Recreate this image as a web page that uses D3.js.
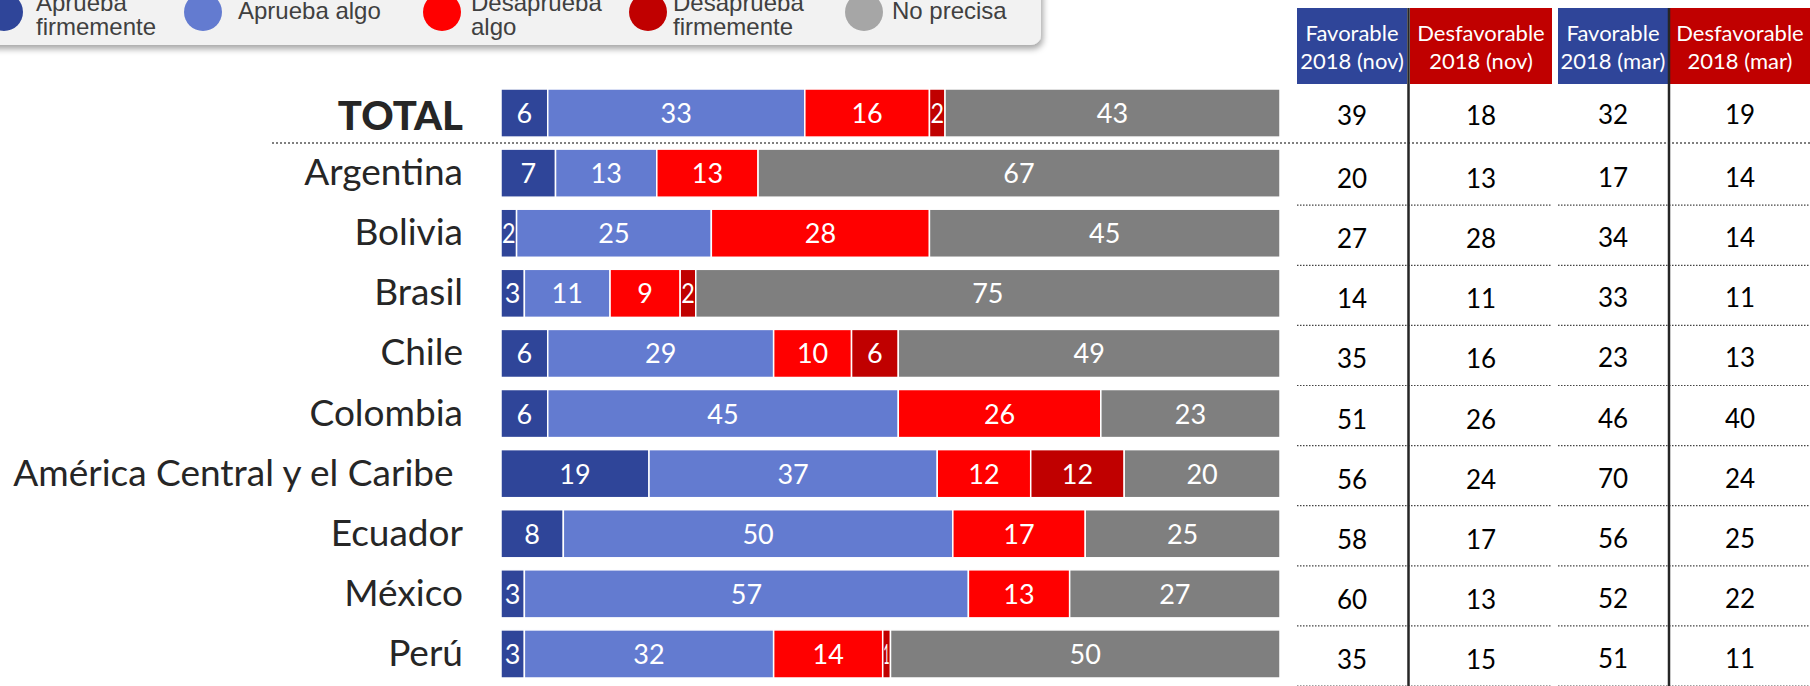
<!DOCTYPE html>
<html>
<head>
<meta charset="utf-8">
<script src="https://cdn.jsdelivr.net/npm/d3@7"></script>
<style>
  html, body { margin: 0; padding: 0; background: #fff; }
  #chart { width: 1810px; height: 686px; overflow: hidden; }
</style>
</head>
<body>
<div id="chart"></div>
<script>
// data
let categories = ['TOTAL', 'Argentina', 'Bolivia', 'Brasil', 'Chile', 'Colombia',
  'América Central y el Caribe', 'Ecuador', 'México', 'Perú'];

let series = ['Aprueba firmemente', 'Aprueba algo', 'Desaprueba algo', 'Desaprueba firmemente', 'No precisa'];
let legendLines = [['Aprueba', 'firmemente'], ['Aprueba algo'], ['Desaprueba', 'algo'], ['Desaprueba', 'firmemente'], ['No precisa']];

let apruebaFirme   = [6, 7, 2, 3, 6, 6, 19, 8, 3, 3];
let apruebaAlgo    = [33, 13, 25, 11, 29, 45, 37, 50, 57, 32];
let desapruebaAlgo = [16, 13, 28, 9, 10, 26, 12, 17, 13, 14];
let desapruebaFirme= [2, 0, 0, 2, 6, 0, 12, 0, 0, 1];
let noPrecisa      = [43, 67, 45, 75, 49, 23, 20, 25, 27, 50];

let tableHeaders = [['Favorable', '2018 (nov)'], ['Desfavorable', '2018 (nov)'], ['Favorable', '2018 (mar)'], ['Desfavorable', '2018 (mar)']];
let favNov = [39, 20, 27, 14, 35, 51, 56, 58, 60, 35];
let desNov = [18, 13, 28, 11, 16, 26, 24, 17, 13, 15];
let favMar = [32, 17, 34, 33, 23, 46, 70, 56, 52, 51];
let desMar = [19, 14, 14, 11, 13, 40, 24, 25, 22, 11];

// styles
let segColors = ['#2f4599', '#637bd0', '#ff0000', '#c00000', '#7f7f7f'],
    legendColors = ['#2f4599', '#637bd0', '#ff0000', '#c00000', '#a6a6a6'],
    headerColors = ['#2f4599', '#c00000', '#2f4599', '#c00000'];
let width = 1810, height = 686;
let font = 'Lato, "Open Sans", sans-serif';

let svg = d3.select('#chart').append('svg')
  .attr('width', width)
  .attr('height', height);

let defs = svg.append('defs');
defs.append('filter').attr('id', 'shadow')
  .attr('x', '-5%').attr('y', '-50%').attr('width', '110%').attr('height', '200%')
  .append('feDropShadow')
  .attr('dx', 2).attr('dy', 4).attr('stdDeviation', 3)
  .attr('flood-color', '#000').attr('flood-opacity', 0.35);

// scales
let x = d3.scaleLinear().domain([0, 100]).range([501, 1280]);
let y = d3.scaleBand().domain(categories).range([89, 678]).paddingInner(0.2).paddingOuter(0);

// stacked rows
let rows = categories.map(function(c, i) {
  return {name: c, vals: [apruebaFirme[i], apruebaAlgo[i], desapruebaAlgo[i], desapruebaFirme[i], noPrecisa[i]]};
});
rows.forEach(function(r) {
  let acc = 0;
  r.segs = r.vals.map(function(v, k) {
    let s = {x0: acc, x1: acc + v, v: v, k: k};
    acc += v;
    return s;
  }).filter(function(s) { return s.v > 0; });
});

// legend box
let legend = svg.append('g').attr('class', 'legend');
legend.append('rect')
  .attr('x', -20).attr('y', -20)
  .attr('width', 1061).attr('height', 65)
  .attr('rx', 10)
  .attr('fill', '#f2f2f2')
  .attr('filter', 'url(#shadow)');

let legendX = [4, 203, 442, 648, 864];
let legendTextX = [32, 35, 29, 25, 28];
let legItems = legend.selectAll('g.item')
  .data(series)
  .enter().append('g')
  .attr('class', 'item')
  .attr('transform', function(d, i) { return 'translate(' + legendX[i] + ',0)'; });

legItems.append('circle')
  .attr('cx', 0).attr('cy', 12).attr('r', 19)
  .attr('fill', function(d, i) { return legendColors[i]; });

legItems.append('text')
  .attr('font-family', '"Liberation Sans", Arial, sans-serif')
  .attr('font-size', 24)
  .attr('fill', '#404040')
  .each(function(d, i) {
    let lines = legendLines[i];
    let t = d3.select(this);
    lines.forEach(function(l, j) {
      t.append('tspan')
        .attr('x', legendTextX[i])
        .attr('y', lines.length > 1 ? 11 + j * 24 : 19)
        .text(l);
    });
  });

// category labels
svg.append('g').selectAll('text')
  .data(rows)
  .enter().append('text')
  .attr('x', 463)
  .attr('y', function(d) { return y(d.name) + y.bandwidth() / 2 + (d.name == 'TOTAL' ? 17 : 12); })
  .attr('text-anchor', 'end')
  .attr('font-family', font)
  .attr('font-size', function(d) { return d.name == 'TOTAL' ? 40 : 37; })
  .attr('font-weight', function(d) { return d.name == 'TOTAL' ? 900 : 400; })
  .attr('fill', '#262626')
  .style('white-space', 'pre')
  .text(function(d) { return d.name.length > 20 ? d.name + '\u00a0' : d.name; });

// bars
let barG = svg.append('g').attr('class', 'bars').selectAll('g')
  .data(rows)
  .enter().append('g')
  .attr('transform', function(d) { return 'translate(0,' + y(d.name) + ')'; });

barG.selectAll('rect')
  .data(function(d) { return d.segs; })
  .enter().append('rect')
  .attr('x', function(s) { return x(s.x0); })
  .attr('width', function(s) { return x(s.x1) - x(s.x0); })
  .attr('height', y.bandwidth())
  .attr('fill', function(s) { return segColors[s.k]; })
  .attr('stroke', '#fff')
  .attr('stroke-width', 1.5);

barG.selectAll('text')
  .data(function(d) { return d.segs; })
  .enter().append('text')
  .attr('x', function(s) { return (x(s.x0) + x(s.x1)) / 2; })
  .attr('y', y.bandwidth() / 2 + 10)
  .attr('text-anchor', 'middle')
  .attr('font-family', font)
  .attr('font-size', 27)
  .attr('fill', '#fff')
  .text(function(s) { return s.v; })
  .each(function(s) {
    // squeeze labels that don't fit in thin segments
    let w = x(s.x1) - x(s.x0) - 2;
    if (this.getComputedTextLength() > w) {
      d3.select(this).attr('textLength', Math.max(w, 6)).attr('lengthAdjust', 'spacingAndGlyphs');
    }
  });

// TOTAL separator
svg.append('line')
  .attr('x1', 272).attr('x2', width)
  .attr('y1', 143).attr('y2', 143)
  .attr('stroke', '#808080')
  .attr('stroke-width', 2)
  .attr('stroke-dasharray', '2,2');

// table
let colEdges = [[1297, 1407], [1410, 1552], [1558, 1668], [1670, 1810]];
let tableVals = [favNov, desNov, favMar, desMar];

let head = svg.append('g').selectAll('g')
  .data(tableHeaders)
  .enter().append('g');

head.append('rect')
  .attr('x', function(d, i) { return colEdges[i][0]; })
  .attr('y', 8)
  .attr('width', function(d, i) { return colEdges[i][1] - colEdges[i][0]; })
  .attr('height', 76)
  .attr('fill', function(d, i) { return headerColors[i]; });

head.append('text')
  .attr('text-anchor', 'middle')
  .attr('font-family', font)
  .attr('font-size', 22)
  .attr('fill', '#fff')
  .each(function(d, i) {
    let cx = (colEdges[i][0] + colEdges[i][1]) / 2;
    let t = d3.select(this);
    d.forEach(function(l, j) {
      t.append('tspan').attr('x', cx).attr('y', 41 + j * 28).text(l);
    });
  });

// row separators in the table
let sepG = svg.append('g');
[[1297, 1552], [1558, width]].forEach(function(span) {
  sepG.selectAll(null)
    .data(categories.slice(1))
    .enter().append('line')
    .attr('x1', span[0]).attr('x2', span[1])
    .attr('y1', function(d) { return y(d) + y.bandwidth() + 8; })
    .attr('y2', function(d) { return y(d) + y.bandwidth() + 8; })
    .attr('stroke', '#444')
    .attr('stroke-width', 1.2)
    .attr('stroke-dasharray', '1.5,1.5');
});

// table values
tableVals.forEach(function(vals, i) {
  let cx = (colEdges[i][0] + colEdges[i][1]) / 2;
  svg.append('g').selectAll('text')
    .data(vals)
    .enter().append('text')
    .attr('x', cx)
    .attr('y', function(v, r) { return y(categories[r]) + y.bandwidth() / 2 + (r == 0 ? 12 : 15) - (i > 1 ? 1 : 0); })
    .attr('text-anchor', 'middle')
    .attr('font-family', font)
    .attr('font-size', 26)
    .attr('fill', '#000')
    .text(function(v) { return v; });
});

// vertical column dividers
svg.append('g').selectAll('line')
  .data([1408.5, 1669])
  .enter().append('line')
  .attr('x1', function(d) { return d; }).attr('x2', function(d) { return d; })
  .attr('y1', 8).attr('y2', height)
  .attr('stroke', '#262626')
  .attr('stroke-width', 2.5);
</script>
</body>
</html>
